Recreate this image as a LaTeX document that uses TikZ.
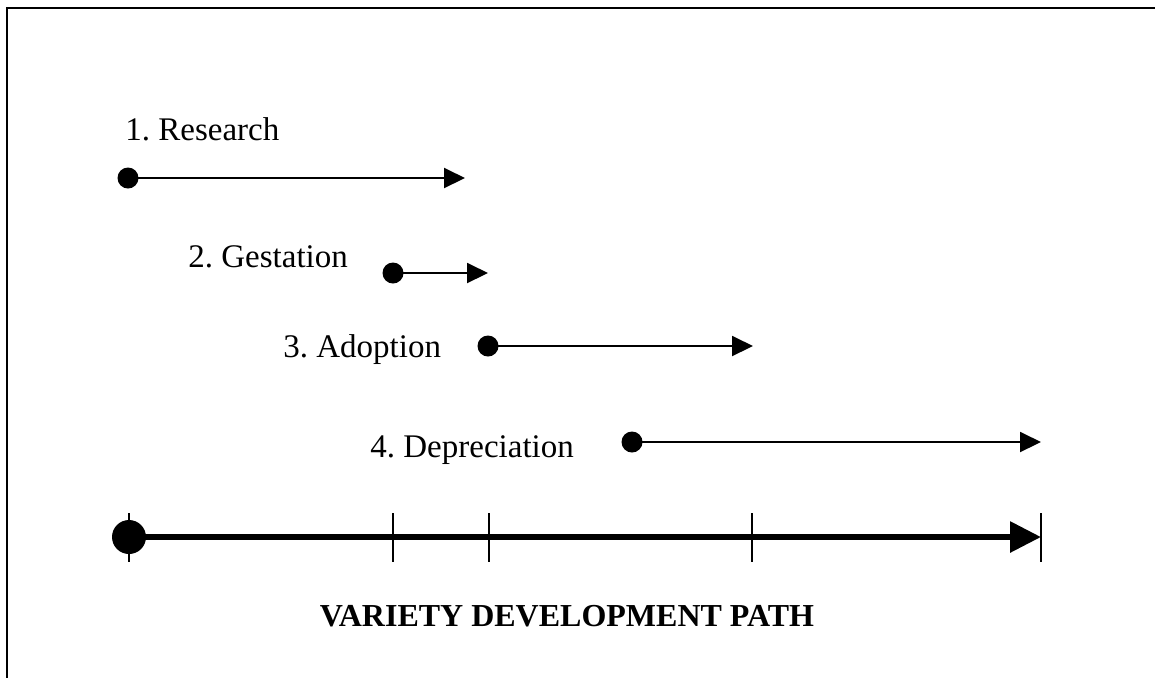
\documentclass[tikz,border=0pt]{standalone}
\usepackage{fontspec}
\setmainfont{Liberation Serif}
\usetikzlibrary{arrows.meta}
\begin{document}
\frenchspacing
\begin{tikzpicture}[x=0.5pt,y=-0.5pt,
  lbl/.style={anchor=base west,inner sep=0pt,font=\fontsize{16.5}{20}\selectfont},
  ttl/.style={anchor=base,inner sep=0pt,font=\fontsize{16}{19}\selectfont\bfseries},
  dot/.style={circle,fill=black,inner sep=0pt,minimum size=10.5pt},
  bigdot/.style={circle,fill=black,inner sep=0pt,minimum size=17pt},
  phase/.style={line width=1pt,-{Triangle[length=10.5pt,width=10pt]}},
  axis/.style={line width=3pt,-{Triangle[length=15.5pt,width=15pt]}},
  tick/.style={line width=1pt},
  frame/.style={line width=1pt}]
\useasboundingbox (0,0) rectangle (1155,677);
% frame (only top and left visible)
\coordinate (fbl) at (7,680);
\coordinate (ftl) at (7,8);
\coordinate (ftr) at (1158,8);
\draw[frame] (fbl) -- (ftl) -- (ftr);
% labels
\node[lbl] (l1) at (125,140) {1. Research};
\node[lbl] (l2) at (188,267) {2. Gestation};
\node[lbl] (l3) at (283,357) {3. Adoption};
\node[lbl] (l4) at (370,457) {4. Depreciation};
% phase arrows
\node[dot] (d1) at (128,178) {};
\coordinate (t1) at (465,178);
\draw[phase] (d1.center) -- (t1);
\node[dot] (d2) at (393,273) {};
\coordinate (t2) at (488,273);
\draw[phase] (d2.center) -- (t2);
\node[dot] (d3) at (488,346) {};
\coordinate (t3) at (753,346);
\draw[phase] (d3.center) -- (t3);
\node[dot] (d4) at (632,442) {};
\coordinate (t4) at (1041,442);
\draw[phase] (d4.center) -- (t4);
% timeline
\coordinate (k0) at (129,537);
\coordinate (k1) at (393,537);
\coordinate (k2) at (489,537);
\coordinate (k3) at (752,537);
\coordinate (k4) at (1041,537);
\foreach \k in {k0,k1,k2,k3,k4} {
  \draw[tick] ([yshift=12pt]\k) -- ([yshift=-12.5pt]\k);
}
\node[bigdot] (d0) at (k0) {};
\draw[axis] (d0.center) -- (k4);
% title
\node[ttl] (title) at (567,626) {VARIETY DEVELOPMENT PATH};
\end{tikzpicture}
\end{document}
